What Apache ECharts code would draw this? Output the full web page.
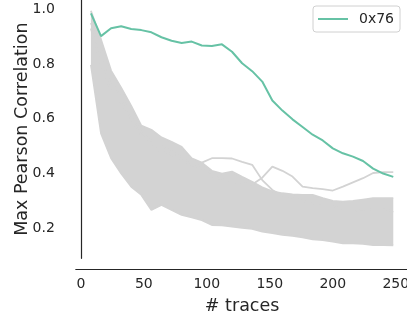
<!DOCTYPE html>
<html>
<head>
<meta charset="utf-8">
<script src="https://cdn.jsdelivr.net/npm/echarts@6/dist/echarts.min.js"></script>
<style>
  html, body { margin: 0; padding: 0; background: #fff; }
  #chart { width: 407px; height: 320px; }
</style>
</head>
<body>
<div id="chart"></div>
<script>
// number of traces on the x axis
const traces = [8, 16, 24, 32, 40, 48, 56, 64, 72, 80, 88, 96, 104, 112, 120, 128,
  136, 144, 152, 160, 168, 176, 184, 192, 200, 208, 216, 224, 232, 240, 248];

// correct key byte
const corr0x76 = [0.985, 0.902, 0.931, 0.938, 0.928, 0.924, 0.916, 0.898, 0.885, 0.877,
  0.882, 0.868, 0.866, 0.872, 0.845, 0.803, 0.774, 0.736, 0.667, 0.630, 0.598, 0.570,
  0.542, 0.521, 0.492, 0.474, 0.462, 0.446, 0.418, 0.400, 0.388];

// wrong key guesses: upper / lower edge of the dense grey bundle
const bandHigh = [0.995, 0.890, 0.776, 0.714, 0.647, 0.575, 0.560, 0.532, 0.516, 0.498,
  0.456, 0.440, 0.410, 0.400, 0.407, 0.388, 0.370, 0.350, 0.335, 0.328, 0.324, 0.322,
  0.322, 0.310, 0.300, 0.297, 0.300, 0.305, 0.310, 0.310, 0.310];
const bandLow = [0.797, 0.547, 0.456, 0.400, 0.352, 0.322, 0.267, 0.285, 0.267, 0.249,
  0.240, 0.230, 0.212, 0.211, 0.206, 0.202, 0.198, 0.188, 0.182, 0.176, 0.172, 0.167,
  0.160, 0.157, 0.151, 0.145, 0.145, 0.143, 0.139, 0.139, 0.138];

// a couple of wrong guesses that leave the bundle
const outlierA = [0.950, 0.850, 0.740, 0.680, 0.610, 0.550, 0.520, 0.500, 0.480, 0.460,
  0.430, 0.420, 0.390, 0.380, 0.370, 0.365, 0.360, 0.385, 0.425, 0.410, 0.389, 0.352,
  0.347, 0.343, 0.338, 0.352, 0.368, 0.383, 0.402, 0.405, 0.405];
const outlierB = [0.930, 0.800, 0.700, 0.660, 0.600, 0.540, 0.500, 0.480, 0.470, 0.450,
  0.430, 0.440, 0.456, 0.456, 0.455, 0.443, 0.432, 0.376, 0.340, 0.320, 0.310, 0.300,
  0.290, 0.280, 0.280, 0.270, 0.270, 0.260, 0.270, 0.270, 0.260];

const xTicks = [0, 50, 100, 150, 200, 250];
const yTicks = [0.2, 0.4, 0.6, 0.8, 1.0];

const GRAY = '#d3d3d3';
const GREEN = '#66c2a5';
const INK = '#262626';
const FONT = 'DejaVu Sans';

const pairs = ys => traces.map((x, i) => [x, ys[i]]);
const grayLine = ys => ({
  type: 'line', data: pairs(ys), symbol: 'none', silent: true, z: 3,
  lineStyle: { color: GRAY, width: 1.8 }
});

const chart = echarts.init(document.getElementById('chart'));
chart.setOption({
  animation: false,
  grid: { left: 75.8, top: 0, width: 332.6, height: 258.3, outerBoundsMode: 'none' },
  legend: {
    data: [{ name: '0x76', icon: 'rect' }],
    left: 313, top: 6,
    itemWidth: 30, itemHeight: 2,
    padding: [6, 6, 6, 5],
    backgroundColor: 'rgba(255,255,255,0.8)',
    borderColor: '#d0d0d0', borderWidth: 1, borderRadius: 3,
    textStyle: { fontFamily: FONT, fontSize: 14, color: INK, padding: [0, 0, 0, 6] }
  },
  xAxis: {
    type: 'value', min: -4, max: 260, offset: 11,
    name: '# traces', nameLocation: 'middle', nameGap: 28, nameMoveOverlap: false,
    nameTextStyle: { fontFamily: FONT, fontSize: 17.5, color: INK },
    axisLine: { lineStyle: { color: INK, width: 1.2 } },
    axisTick: { show: false },
    splitLine: { show: false },
    axisLabel: { customValues: xTicks, margin: 8, fontFamily: FONT, fontSize: 14, color: INK }
  },
  yAxis: {
    type: 'value', min: 0.0904, max: 1.034, offset: 12,
    name: 'Max Pearson Correlation', nameLocation: 'middle', nameGap: 32, nameMoveOverlap: false,
    nameTextStyle: { fontFamily: FONT, fontSize: 17.5, color: INK },
    axisLine: { show: true, lineStyle: { color: INK, width: 1.2 } },
    axisTick: { show: false },
    splitLine: { show: false },
    axisLabel: {
      customValues: yTicks, margin: 9, fontFamily: FONT, fontSize: 14, color: INK,
      formatter: v => v.toFixed(1)
    }
  },
  series: [
    {
      // the dense bundle of wrong guesses, drawn as one polygon between its edges
      type: 'custom', silent: true, z: 1,
      data: [[traces[0], bandHigh[0]]],
      encode: { x: 0, y: 1 },
      renderItem: (params, api) => {
        const top = traces.map((x, i) => api.coord([x, bandHigh[i]]));
        const bottom = traces.map((x, i) => api.coord([x, bandLow[i]])).reverse();
        return { type: 'polygon', shape: { points: top.concat(bottom) }, style: { fill: GRAY } };
      }
    },
    grayLine(bandHigh),
    grayLine(bandLow),
    grayLine(outlierA),
    grayLine(outlierB),
    {
      name: '0x76', type: 'line', data: pairs(corr0x76), symbol: 'none', z: 5,
      color: GREEN, lineStyle: { color: GREEN, width: 2 }
    }
  ]
});
</script>
</body>
</html>
